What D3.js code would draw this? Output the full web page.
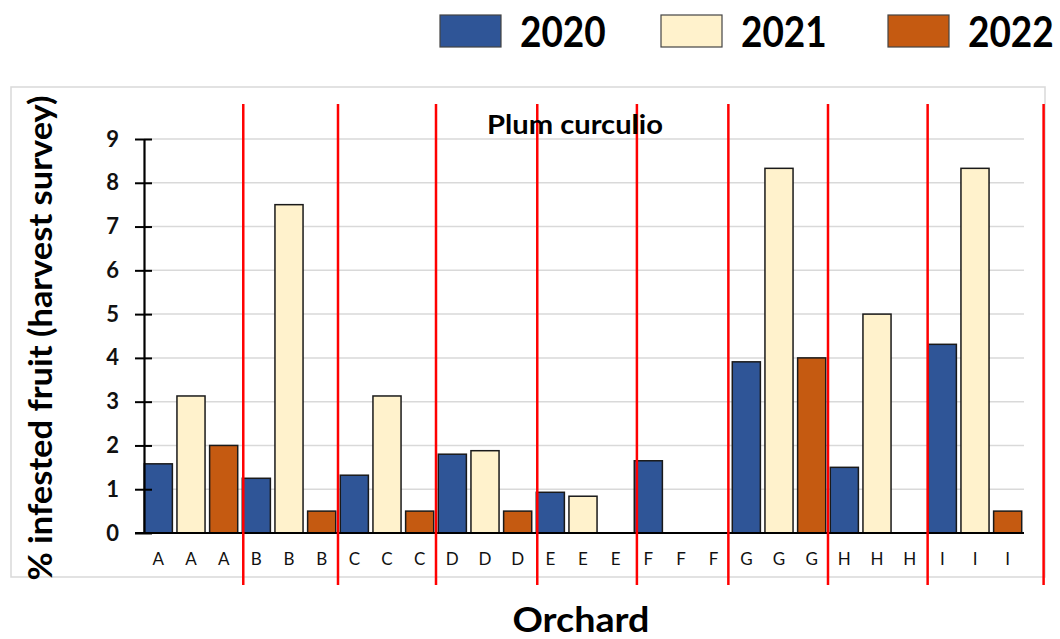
<!DOCTYPE html>
<html>
<head>
<meta charset="utf-8">
<script src="https://cdn.jsdelivr.net/npm/d3@7"></script>
<style>
  html, body { margin: 0; padding: 0; background: #fff; }
  svg { display: block; font-family: Lato, "Noto Sans", sans-serif; }
</style>
</head>
<body>
<svg id="chart" width="1060" height="639"></svg>
<script>
// ---- data ----
const orchards = ["A","B","C","D","E","F","G","H","I"];
const years = ["2020","2021","2022"];
const values2020 = [1.58, 1.25, 1.32, 1.80, 0.93, 1.65, 3.91, 1.50, 4.31];
const values2021 = [3.13, 7.50, 3.13, 1.88, 0.84, 0, 8.33, 5.00, 8.33];
const values2022 = [2.00, 0.50, 0.50, 0.50, 0, 0, 4.00, 0, 0.50];
const yTicks = [0,1,2,3,4,5,6,7,8,9];
const colors = ["#2F5597", "#FFF2CC", "#C55A11"];
// separators (in category-slot units)
const redLineAt = [3.1, 6, 9, 12.1, 15.15, 17.95, 21, 24.05, 27.6];
const title = "Plum curculio";
const yLabel = "% infested fruit (harvest survey)";
const xLabel = "Orchard";

// ---- build flat table ----
const series = [values2020, values2021, values2022];
const rows = [];
orchards.forEach((o, i) => {
  years.forEach((yr, j) => {
    rows.push({ key: o + "_" + yr, orchard: o, year: yr, yi: j, value: series[j][i] });
  });
});

const svg = d3.select("#chart");

// plot area frame
svg.append("rect")
  .attr("x", 11).attr("y", 87).attr("width", 1034).attr("height", 490)
  .attr("fill", "none").attr("stroke", "#d9d9d9").attr("stroke-width", 1.5);

const x = d3.scaleBand()
  .domain(rows.map(d => d.key))
  .range([142, 1024])
  .paddingInner(0.14)
  .paddingOuter(0.07);
const slot = d3.scaleLinear().domain([0, rows.length]).range([142, 1024]);
const y = d3.scaleLinear().domain([0, 9]).range([533, 139]);

// gridlines
svg.append("g").selectAll("line").data(yTicks.filter(t => t > 0)).join("line")
  .attr("x1", 144).attr("x2", 1024)
  .attr("y1", d => y(d)).attr("y2", d => y(d))
  .attr("stroke", "#d9d9d9").attr("stroke-width", 1.5);

// bars
svg.append("g").selectAll("rect").data(rows.filter(d => d.value > 0)).join("rect")
  .attr("x", d => x(d.key))
  .attr("width", x.bandwidth())
  .attr("y", d => y(d.value))
  .attr("height", d => y(0) - y(d.value))
  .attr("fill", d => colors[d.yi])
  .attr("stroke", "#1a1a1a").attr("stroke-width", 1.5);

// y axis
const yAxis = d3.axisLeft(y).tickValues(yTicks).tickSizeInner(9).tickSizeOuter(0).tickPadding(16);
const gy = svg.append("g").attr("transform", "translate(144,0)").call(yAxis);
gy.select(".domain").attr("stroke", "#000").attr("stroke-width", 2.2);
gy.selectAll(".tick line").attr("x2", 8).attr("x1", -9).attr("stroke", "#000").attr("stroke-width", 2);
gy.selectAll(".tick text").attr("font-size", 22).attr("font-weight", "bold").attr("fill", "#111")
  .attr("font-family", "Lato, sans-serif");

// x axis
const xAxis = d3.axisBottom(x).tickFormat(k => k.split("_")[0]).tickSize(0).tickPadding(20);
const gx = svg.append("g").attr("transform", "translate(0,533)").call(xAxis);
gx.select(".domain").remove();
gx.selectAll(".tick text").attr("font-size", 17).attr("fill", "#111")
  .attr("font-family", "Lato, sans-serif");
svg.append("line").attr("x1", 135).attr("x2", 1024).attr("y1", y(0)).attr("y2", y(0))
  .attr("stroke", "#000").attr("stroke-width", 2.2);

// red separators
svg.append("g").selectAll("line").data(redLineAt).join("line")
  .attr("x1", d => slot(d)).attr("x2", d => slot(d))
  .attr("y1", 104).attr("y2", 585)
  .attr("stroke", "#ff0000").attr("stroke-width", 2.5);

// title
svg.append("text").attr("x", 575).attr("y", 134).attr("text-anchor", "middle")
  .attr("font-size", 27).attr("font-weight", "bold").attr("fill", "#000")
  .attr("textLength", 176).attr("lengthAdjust", "spacingAndGlyphs").text(title);

// y label
svg.append("text").attr("transform", "translate(52,338) rotate(-90)")
  .attr("text-anchor", "middle").attr("font-size", 32).attr("font-weight", "bold")
  .attr("fill", "#000").attr("textLength", 485).attr("lengthAdjust", "spacingAndGlyphs")
  .text(yLabel);

// x label
svg.append("text").attr("x", 581).attr("y", 632).attr("text-anchor", "middle")
  .attr("font-size", 35).attr("font-weight", "bold").attr("fill", "#000")
  .attr("textLength", 137).attr("lengthAdjust", "spacingAndGlyphs").text(xLabel);

// legend
const legX = [440, 661, 888];
const lg = svg.append("g").selectAll("g").data(years).join("g")
  .attr("transform", (d, i) => `translate(${legX[i]},15)`);
lg.append("rect").attr("width", 61).attr("height", 32)
  .attr("fill", (d, i) => colors[i]).attr("stroke", "#444").attr("stroke-width", 1.2);
lg.append("text").attr("transform", "translate(80,32) scale(0.88,1)")
  .attr("font-size", 42).attr("font-weight", "bold").attr("fill", "#000")
  .text(d => d);
</script>
</body>
</html>
